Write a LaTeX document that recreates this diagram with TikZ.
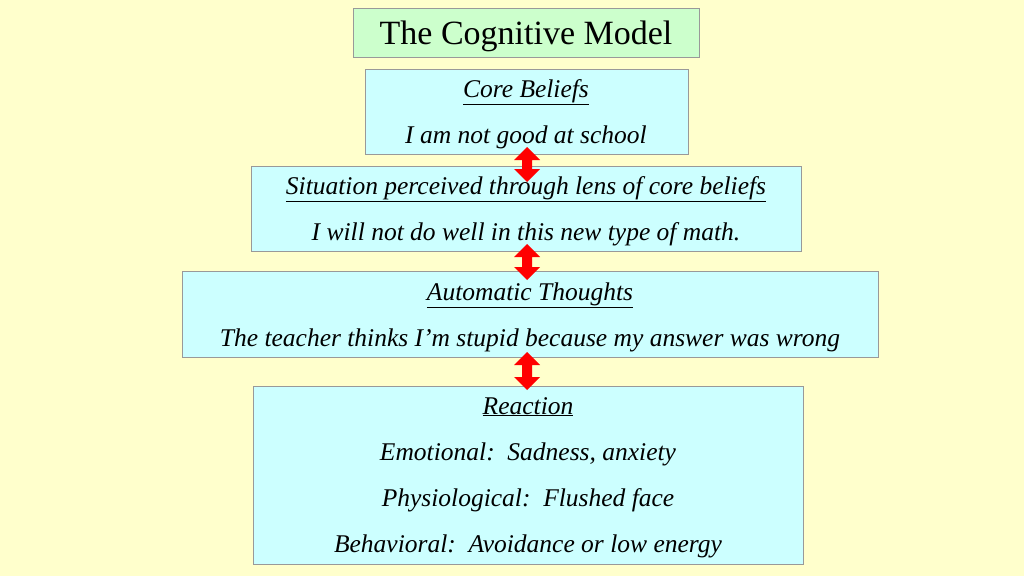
\documentclass[tikz,border=0pt]{standalone}
\usepackage{fontspec}
\setmainfont{Liberation Serif}
\definecolor{bg}{HTML}{FFFFCC}
\definecolor{cy}{HTML}{CCFFFF}
\definecolor{gr}{HTML}{CCFFCC}
\begin{document}
\begin{tikzpicture}[x=1pt,y=-1pt,
  box/.style={draw=black!40,line width=0.8pt,fill=cy},
  txt/.style={font=\fontsize{25.5}{27}\selectfont\itshape,anchor=base},
  dar/.style={fill=red,draw=none}]
\fill[bg] (0,0) rectangle (1024,576);
\useasboundingbox (0,0) rectangle (1024,576);
\draw[box,fill=gr] (353,8) rectangle (699,57);
\node[font=\fontsize{34}{36}\selectfont,anchor=base] (title) at (526,44) {The Cognitive Model};
\draw[box] (365,69) rectangle (688,154);
\node[txt] (c1) at (526,97) {\underline{Core Beliefs}};
\node[txt] (c2) at (526,143) {I am not good at school};
\draw[box] (251,166) rectangle (801,251);
\node[txt] (s1) at (526,194) {\underline{Situation perceived through lens of core beliefs}};
\node[txt] (s2) at (526,240) {I will not do well in this new type of math.};
\draw[box] (182,271) rectangle (878,357);
\node[txt] (a1) at (530,300) {\underline{Automatic Thoughts}};
\node[txt] (a2) at (530,346) {The teacher thinks I’m stupid because my answer was wrong};
\draw[box] (253,386) rectangle (803,564);
\node[txt] (r1) at (528,414) {\underline{Reaction}};
\node[txt] (r2) at (528,460) {Emotional:\ \ Sadness, anxiety};
\node[txt] (r3) at (528,506) {Physiological:\ \ Flushed face};
\node[txt] (r4) at (528,552) {Behavioral:\ \ Avoidance or low energy};
\foreach \cx/\ta/\tb in {527/147/182, 527/244/280, 527/352/390}{
  \fill[dar] (\cx,\ta) -- (\cx+13,\ta+13) -- (\cx+5,\ta+13) -- (\cx+5,\tb-13) -- (\cx+13,\tb-13)
    -- (\cx,\tb) -- (\cx-13,\tb-13) -- (\cx-5,\tb-13) -- (\cx-5,\ta+13) -- (\cx-13,\ta+13) -- cycle;
}
\end{tikzpicture}
\end{document}
